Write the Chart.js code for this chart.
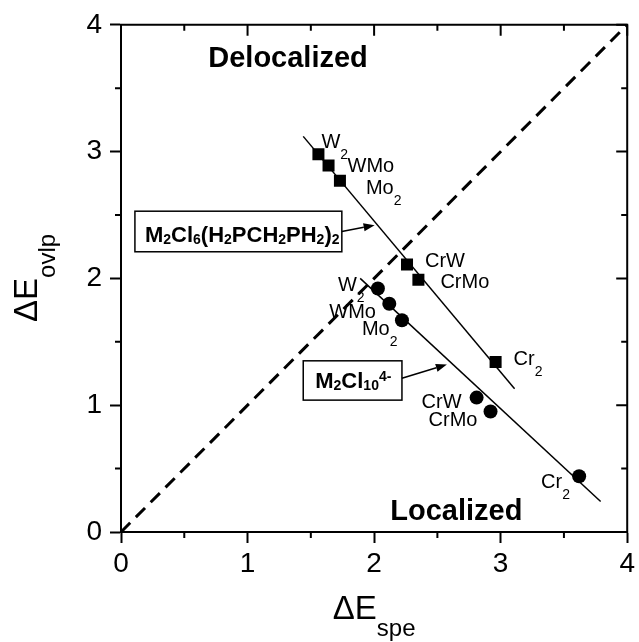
<!DOCTYPE html>
<html>
<head>
<meta charset="utf-8">
<script src="https://cdn.jsdelivr.net/npm/chart.js@4.4.0/dist/chart.umd.min.js"></script>
<style>
  html, body { margin: 0; padding: 0; background: #fff; }
  canvas { display: block; }
</style>
</head>
<body>
<canvas id="c" width="639" height="642"></canvas>
<script>
const FONT = '"Liberation Sans", Arial, Helvetica, sans-serif';

// M2Cl6(H2PCH2PH2)2 complexes
const dmpmNames = ['W2', 'WMo', 'Mo2', 'CrW', 'CrMo', 'Cr2'];
const dmpmSpe   = [1.56, 1.64, 1.73, 2.26, 2.35, 2.96];
const dmpmOvlp  = [2.98, 2.89, 2.77, 2.11, 1.99, 1.34];

// M2Cl10(4-) complexes
const chlNames = ['W2', 'WMo', 'Mo2', 'CrW', 'CrMo', 'Cr2'];
const chlSpe   = [2.03, 2.12, 2.22, 2.81, 2.92, 3.62];
const chlOvlp  = [1.92, 1.80, 1.67, 1.06, 0.95, 0.44];

// Fitted lines through each series (end points)
const dmpmFitSpe  = [1.44, 3.11];
const dmpmFitOvlp = [3.12, 1.13];
const chlFitSpe   = [1.89, 3.79];
const chlFitOvlp  = [2.00, 0.24];

// Diagonal ΔE_spe = ΔE_ovlp
const diagSpe  = [0, 4];
const diagOvlp = [0, 4];

const axisMin = 0, axisMax = 4;
const majorTicks = [0, 1, 2, 3, 4];
const minorTicks = [0.5, 1.5, 2.5, 3.5];

const pts = (xs, ys) => xs.map((v, i) => ({ x: v, y: ys[i] }));

// label placement next to each marker: [dx, baseline dy] in px
const dmpmLabelOffsets = [[3, -6], [19, 6], [26, 13], [18, 3], [22, 8], [18, 3]];
const chlLabelOffsets  = [[-40, 2], [-60, 14], [-40, 15], [-55, 10], [-62, 14], [-38, 12]];

// Boxed series captions with arrows (data coordinates)
const captions = [
  {
    box: [0.11, 2.53, 1.745, 2.21], baseline: 31, pad: 10,
    parts: [['M',0],['2',1],['Cl',0],['6',1],['(H',0],['2',1],['PCH',0],['2',1],['PH',0],['2',1],[')',0],['2',1]],
    arrowFrom: [1.745, 2.37], arrowTo: [2.004, 2.42]
  },
  {
    box: [1.44, 1.35, 2.22, 1.04], baseline: 27, pad: 12,
    parts: [['M',0],['2',1],['Cl',0],['10',1],['4-',2]],
    arrowFrom: [2.22, 1.213], arrowTo: [2.575, 1.32]
  }
];

const regionLabels = [
  { text: 'Delocalized', x: 1.32, y: 3.67 },
  { text: 'Localized',   x: 2.65, y: 0.094 }
];

function drawRich(ctx, x, y, parts, size, subSize, weight, subDown, supUp) {
  let cx = x;
  for (const [t, k] of parts) {
    ctx.font = `${weight} ${k === 0 ? size : subSize}px ${FONT}`;
    const dy = k === 1 ? subDown : (k === 2 ? -supUp : 0);
    ctx.fillText(t, cx, y + dy);
    cx += ctx.measureText(t).width;
  }
  return cx - x;
}

function splitName(name) {
  const m = name.match(/^(.*?)(\d*)$/);
  const parts = [[m[1], 0]];
  if (m[2]) parts.push([m[2], 1]);
  return parts;
}

function arrow(ctx, x1, y1, x2, y2) {
  const a = Math.atan2(y2 - y1, x2 - x1);
  const len = 11, hw = 4;
  ctx.beginPath();
  ctx.moveTo(x1, y1);
  ctx.lineTo(x2 - len * Math.cos(a), y2 - len * Math.sin(a));
  ctx.stroke();
  ctx.beginPath();
  ctx.moveTo(x2, y2);
  ctx.lineTo(x2 - len * Math.cos(a) + hw * Math.sin(a), y2 - len * Math.sin(a) - hw * Math.cos(a));
  ctx.lineTo(x2 - len * Math.cos(a) - hw * Math.sin(a), y2 - len * Math.sin(a) + hw * Math.cos(a));
  ctx.closePath();
  ctx.fill();
}

const decorations = {
  id: 'decorations',
  afterDraw(chart) {
    const { ctx, chartArea: ca } = chart;
    const xs = chart.scales.x, ys = chart.scales.y;
    ctx.save();
    ctx.strokeStyle = '#000';
    ctx.fillStyle = '#000';

    // top and right frame
    ctx.lineWidth = 2;
    ctx.beginPath();
    ctx.moveTo(ca.left - 1, ca.top);
    ctx.lineTo(ca.right, ca.top);
    ctx.lineTo(ca.right, ca.bottom + 1);
    ctx.stroke();

    // mirrored major ticks (inward) and minor ticks on all sides
    ctx.beginPath();
    for (const v of majorTicks) {
      const px = xs.getPixelForValue(v), py = ys.getPixelForValue(v);
      ctx.moveTo(px, ca.top); ctx.lineTo(px, ca.top + 11);
      ctx.moveTo(ca.right, py); ctx.lineTo(ca.right - 11, py);
    }
    for (const v of minorTicks) {
      const px = xs.getPixelForValue(v), py = ys.getPixelForValue(v);
      ctx.moveTo(px, ca.top); ctx.lineTo(px, ca.top + 6);
      ctx.moveTo(px, ca.bottom); ctx.lineTo(px, ca.bottom + 6);
      ctx.moveTo(ca.right, py); ctx.lineTo(ca.right - 6, py);
      ctx.moveTo(ca.left, py); ctx.lineTo(ca.left - 6, py);
    }
    ctx.stroke();

    // point labels
    ctx.textAlign = 'left';
    ctx.textBaseline = 'alphabetic';
    const series = [
      [dmpmNames, dmpmSpe, dmpmOvlp, dmpmLabelOffsets],
      [chlNames, chlSpe, chlOvlp, chlLabelOffsets]
    ];
    for (const [names, sx, sy, offs] of series) {
      names.forEach((n, i) => {
        const px = xs.getPixelForValue(sx[i]) + offs[i][0];
        const py = ys.getPixelForValue(sy[i]) + offs[i][1];
        drawRich(ctx, px, py, splitName(n), 20, 14, 'normal', 11, 0);
      });
    }

    // boxed captions with arrows
    for (const c of captions) {
      const l = xs.getPixelForValue(c.box[0]), t = ys.getPixelForValue(c.box[1]);
      const r = xs.getPixelForValue(c.box[2]), b = ys.getPixelForValue(c.box[3]);
      ctx.fillStyle = '#fff';
      ctx.fillRect(l, t, r - l, b - t);
      ctx.fillStyle = '#000';
      ctx.lineWidth = 1.5;
      ctx.strokeRect(l, t, r - l, b - t);
      drawRich(ctx, l + c.pad, t + c.baseline, c.parts, 22, 14, 'bold', 2, 7);
      ctx.lineWidth = 1.5;
      arrow(ctx,
        xs.getPixelForValue(c.arrowFrom[0]), ys.getPixelForValue(c.arrowFrom[1]),
        xs.getPixelForValue(c.arrowTo[0]), ys.getPixelForValue(c.arrowTo[1]));
    }

    // region labels
    ctx.textAlign = 'center';
    ctx.font = `bold 29px ${FONT}`;
    for (const r of regionLabels) {
      ctx.fillText(r.text, xs.getPixelForValue(r.x), ys.getPixelForValue(r.y));
    }

    // axis titles with subscripts
    ctx.textAlign = 'left';
    const xMid = (ca.left + ca.right) / 2;
    ctx.font = `normal 33px ${FONT}`;
    const wDE = ctx.measureText('\u0394E').width;
    ctx.font = `normal 24px ${FONT}`;
    const wSpe = ctx.measureText('spe').width;
    drawRich(ctx, xMid - (wDE + wSpe) / 2, 619, [['\u0394E', 0], ['spe', 1]], 33, 24, 'normal', 17, 0);

    ctx.translate(37, 322);
    ctx.rotate(-Math.PI / 2);
    drawRich(ctx, 0, 0, [['\u0394E', 0], ['ovlp', 1]], 33, 24, 'normal', 18, 0);

    ctx.restore();
  }
};

const axisCommon = {
  type: 'linear',
  min: axisMin,
  max: axisMax,
  grid: {
    drawOnChartArea: false,
    drawTicks: true,
    tickLength: 11,
    tickWidth: 2,
    tickColor: '#000'
  },
  border: { display: true, width: 2, color: '#000' },
  title: { display: false }
};

new Chart(document.getElementById('c'), {
  type: 'scatter',
  data: {
    datasets: [
      {
        label: 'M2Cl6(H2PCH2PH2)2',
        data: pts(dmpmSpe, dmpmOvlp),
        pointStyle: 'rect',
        pointRadius: 8.5,
        backgroundColor: '#000',
        borderWidth: 0,
        order: 0
      },
      {
        label: 'M2Cl10 4-',
        data: pts(chlSpe, chlOvlp),
        pointStyle: 'circle',
        pointRadius: 7,
        backgroundColor: '#000',
        borderWidth: 0,
        order: 0
      },
      {
        label: 'fit 1',
        data: pts(dmpmFitSpe, dmpmFitOvlp),
        showLine: true,
        pointRadius: 0,
        borderColor: '#000',
        borderWidth: 1.5,
        order: 1
      },
      {
        label: 'fit 2',
        data: pts(chlFitSpe, chlFitOvlp),
        showLine: true,
        pointRadius: 0,
        borderColor: '#000',
        borderWidth: 1.5,
        order: 1
      },
      {
        label: 'diagonal',
        data: pts(diagSpe, diagOvlp),
        showLine: true,
        pointRadius: 0,
        borderColor: '#000',
        borderWidth: 3,
        borderDash: [13, 8],
        order: 2
      }
    ]
  },
  options: {
    responsive: false,
    animation: false,
    events: [],
    layout: { padding: { left: 0, right: 7, top: 23, bottom: 0 } },
    plugins: {
      legend: { display: false },
      tooltip: { enabled: false }
    },
    scales: {
      x: Object.assign({}, axisCommon, {
        position: 'bottom',
        afterFit(s) { s.height = 110; },
        afterBuildTicks(s) { s.ticks = majorTicks.map(v => ({ value: v })); },
        ticks: {
          color: '#000',
          padding: 4,
          maxRotation: 0,
          font: { family: FONT, size: 28 },
          callback: v => String(v)
        }
      }),
      y: Object.assign({}, axisCommon, {
        position: 'left',
        afterFit(s) { s.width = 121; },
        afterBuildTicks(s) { s.ticks = majorTicks.map(v => ({ value: v })); },
        ticks: {
          color: '#000',
          padding: 8,
          font: { family: FONT, size: 28 },
          callback: v => String(v)
        }
      })
    }
  },
  plugins: [decorations]
});
</script>
</body>
</html>
